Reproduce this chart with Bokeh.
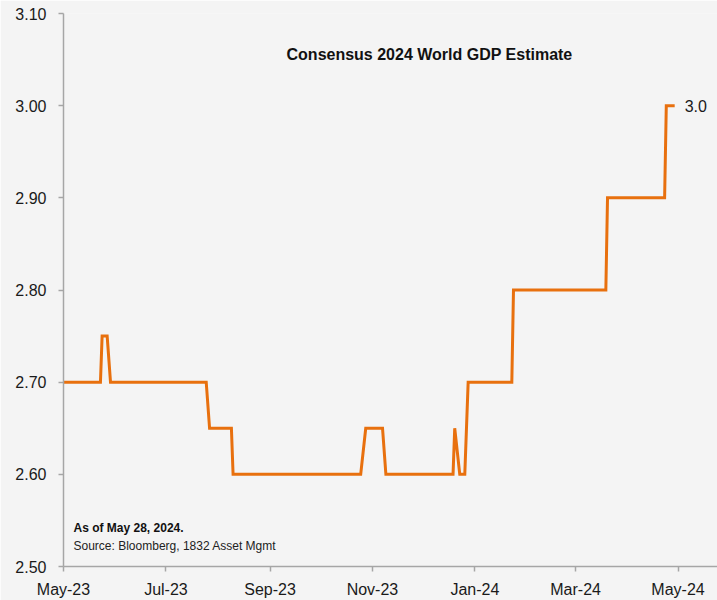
import pandas as pd
from bokeh.plotting import figure
from bokeh.models import Range1d, FixedTicker, DatetimeTickFormatter, NumeralTickFormatter, Label
from bokeh.embed import file_html
from bokeh.resources import INLINE

# Consensus estimate of 2024 world GDP growth (%), step changes over time
dates = ["2023-05-01", "2023-05-23", "2023-05-24", "2023-05-27", "2023-05-29",
         "2023-07-25", "2023-07-27", "2023-08-09", "2023-08-10", "2023-10-25",
         "2023-10-28", "2023-11-07", "2023-11-09", "2023-12-19", "2023-12-20",
         "2023-12-23", "2023-12-26", "2023-12-28", "2024-01-23", "2024-01-24",
         "2024-03-19", "2024-03-20", "2024-04-23", "2024-04-24", "2024-04-29"]
values = [2.70, 2.70, 2.75, 2.75, 2.70,
          2.70, 2.65, 2.65, 2.60, 2.60,
          2.65, 2.65, 2.60, 2.60, 2.65,
          2.60, 2.60, 2.70, 2.70, 2.80,
          2.80, 2.90, 2.90, 3.00, 3.00]

x_tick_dates = ["2023-05-01", "2023-07-01", "2023-09-01", "2023-11-01",
                "2024-01-01", "2024-03-01", "2024-05-01"]
y_ticks = [2.50, 2.60, 2.70, 2.80, 2.90, 3.00, 3.10]

title_text = "Consensus 2024 World GDP Estimate"
note_bold = "As of May 28, 2024."
note_source = "Source: Bloomberg, 1832 Asset Mgmt"

BG = "#f4f4f4"
ORANGE = "#e8700e"
AXIS = "#a6a6a6"
FONT = "Liberation Sans"

x = pd.to_datetime(dates)
x_start = pd.Timestamp("2023-05-01")
x_end = x_start + pd.Timedelta(days=389.5)

p = figure(width=717, height=600, x_axis_type="datetime",
           x_range=Range1d(x_start, x_end), y_range=Range1d(2.50, 3.10),
           output_backend="svg", toolbar_location=None,
           background_fill_color=BG, border_fill_color=BG,
           min_border_left=63, min_border_right=0,
           min_border_top=13, min_border_bottom=34)
p.outline_line_color = None
p.grid.grid_line_color = None

p.line(x, values, line_color=ORANGE, line_width=3, line_join="miter")

# axes
tick_ms = [pd.Timestamp(d).value / 1e6 for d in x_tick_dates]
p.xaxis.ticker = FixedTicker(ticks=tick_ms)
fmt = "%b-%y"
p.xaxis.formatter = DatetimeTickFormatter(
    milliseconds=fmt, seconds=fmt, minsec=fmt, minutes=fmt, hourmin=fmt,
    hours=fmt, days=fmt, months=fmt, years=fmt)
p.yaxis.ticker = FixedTicker(ticks=y_ticks)
p.yaxis.formatter = NumeralTickFormatter(format="0.00")

for ax in (p.xaxis[0], p.yaxis[0]):
    ax.axis_line_color = AXIS
    ax.axis_line_width = 1.5
    ax.major_tick_line_color = AXIS
    ax.major_tick_line_width = 1.5
    ax.major_tick_out = 5
    ax.major_tick_in = 0
    ax.minor_tick_line_color = None
    ax.major_label_text_font = FONT
    ax.major_label_text_font_size = "16px"
    ax.major_label_text_color = "#1a1a1a"
p.xaxis.major_label_standoff = 9
p.yaxis.major_label_standoff = 12

# title inside the plot area
p.add_layout(Label(x=pd.Timestamp("2023-12-05"), y=3.10, y_offset=-41,
                   text=title_text, text_align="center", text_baseline="middle",
                   text_font=FONT, text_font_style="bold", text_font_size="16px",
                   text_color="#111111"))

# end-value label
p.add_layout(Label(x=x[-1], y=values[-1], x_offset=10, text=f"{values[-1]:.1f}",
                   text_align="left", text_baseline="middle",
                   text_font=FONT, text_font_size="16px", text_color="#1a1a1a"))

# notes at bottom-left
p.add_layout(Label(x=x_start, y=2.50, x_offset=10, y_offset=39, text=note_bold,
                   text_align="left", text_baseline="middle",
                   text_font=FONT, text_font_style="bold", text_font_size="12px",
                   text_color="#111111"))
p.add_layout(Label(x=x_start, y=2.50, x_offset=10, y_offset=21, text=note_source,
                   text_align="left", text_baseline="middle",
                   text_font=FONT, text_font_size="12px", text_color="#222222"))

open("out.html", "w").write(file_html(p, INLINE))
